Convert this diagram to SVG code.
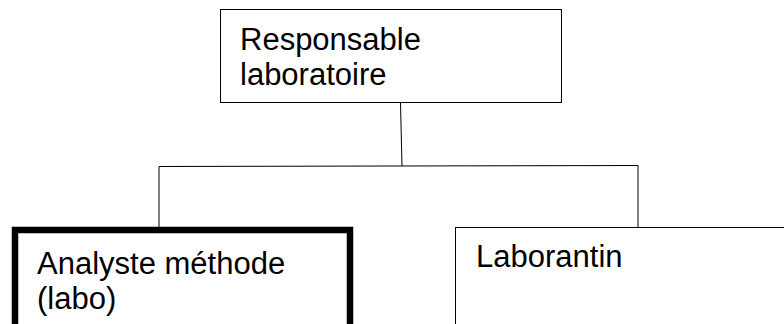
<svg xmlns="http://www.w3.org/2000/svg" width="784" height="324" viewBox="0 0 784 324">
<style>
.lbl{font-family:"Liberation Sans",Arial,sans-serif;font-size:31px;fill:#000}
.box{fill:#fff;stroke:#000;stroke-width:1}
.thick{fill:#fff;stroke:#000;stroke-width:6.5}
.conn{fill:none;stroke:#000;stroke-width:1}
</style>
<rect width="784" height="324" fill="#fff"/>
<g id="connectors">
<path class="conn" d="M400.5,103 L402,166"/>
<path class="conn" d="M159,227 L159,166.5 L638,165.5 L638,227"/>
</g>
<g id="node-responsable">
<rect class="box" x="220.5" y="9.5" width="341" height="93"/>
<text class="lbl" x="240" y="50">Responsable</text>
<text class="lbl" x="240" y="85">laboratoire</text>
</g>
<g id="node-analyste">
<rect class="thick" x="15" y="230" width="335" height="120"/>
<text class="lbl" x="37" y="274">Analyste méthode</text>
<text class="lbl" x="37" y="309">(labo)</text>
</g>
<g id="node-laborantin">
<rect class="box" x="455.5" y="227.5" width="340" height="120"/>
<text class="lbl" x="476" y="267">Laborantin</text>
</g>
</svg>
